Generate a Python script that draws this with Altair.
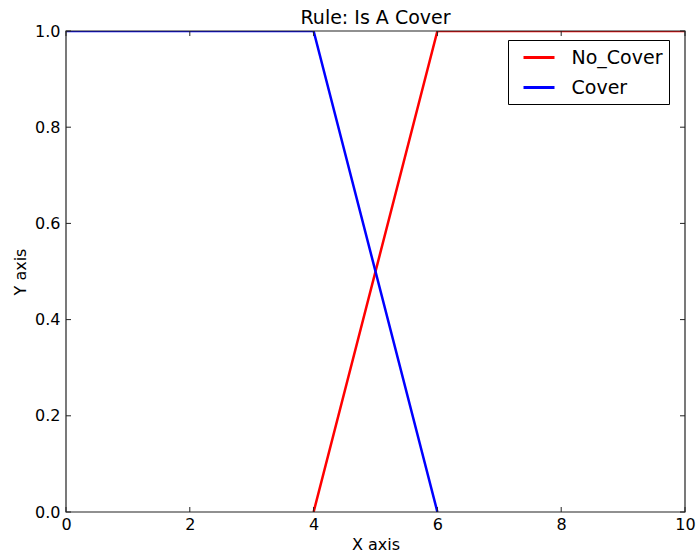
import altair as alt
import pandas as pd

# ---- data ----
series_names = ["No_Cover", "Cover"]
no_cover_x = [4, 6, 10]
no_cover_y = [0, 1, 1]
cover_x = [0, 4, 6]
cover_y = [1, 1, 0]
x_ticks = [0, 2, 4, 6, 8, 10]
y_ticks = [0.0, 0.2, 0.4, 0.6, 0.8, 1.0]

rows = []
for name, xs_, ys_ in zip(series_names, [no_cover_x, cover_x], [no_cover_y, cover_y]):
    for i, (xv, yv) in enumerate(zip(xs_, ys_)):
        rows.append({"x": xv, "y": yv, "series": name, "order": i})
df = pd.DataFrame(rows)

W, H = 619, 481
FONT = "DejaVu Sans"
TL = 5  # inward tick length

xs = alt.Scale(domain=[0, 10], nice=False, zero=False)
ys = alt.Scale(domain=[0, 1], nice=False, zero=False)
x_axis = alt.Axis(values=x_ticks, title="X axis", format="d", labelPadding=4, titlePadding=4, labelFlush=False)
y_axis = alt.Axis(values=y_ticks, title="Y axis", format=".1f", labelPadding=6, titlePadding=6, labelFlush=False)

X = lambda f: alt.X(f, type="quantitative", scale=xs, axis=x_axis)
Y = lambda f: alt.Y(f, type="quantitative", scale=ys, axis=y_axis)

lines = alt.Chart(df).mark_line(strokeWidth=2.5, clip=True).encode(
    x=X("x"),
    y=Y("y"),
    color=alt.Color(
        "series:N",
        scale=alt.Scale(domain=series_names, range=["#ff0000", "#0000ff"]),
        sort=series_names,
        legend=alt.Legend(
            title=None,
            orient="none",
            legendX=442,
            legendY=9,
            symbolType="M-1.55,0H1.55",
            symbolStrokeWidth=3,
            symbolSize=400,
            symbolOffset=13.5,
            labelFontSize=19,
            labelFont=FONT,
            labelColor="black",
            labelOffset=21,
            padding=6,
            rowPadding=8,
            strokeColor="black",
            fillColor="white",
            cornerRadius=0,
        ),
    ),
    order="order:Q",
)

frame_df = pd.DataFrame({"x": [x_ticks[0]], "x2": [x_ticks[-1]], "y": [y_ticks[0]], "y2": [y_ticks[-1]]})
frame = alt.Chart(frame_df).mark_rect(fillOpacity=0, stroke="#222222", strokeWidth=1.2).encode(
    x=X("x"), x2="x2:Q", y=Y("y"), y2="y2:Q"
)

xt = pd.DataFrame({"x": x_ticks})
yt = pd.DataFrame({"y": y_ticks})
tick_style = dict(color="#222222", strokeWidth=1)
xb = alt.Chart(xt).mark_rule(**tick_style).encode(x=X("x"), y=alt.value(H), y2=alt.value(H - TL))
xtop = alt.Chart(xt).mark_rule(**tick_style).encode(x=X("x"), y=alt.value(0), y2=alt.value(TL))
yl = alt.Chart(yt).mark_rule(**tick_style).encode(y=Y("y"), x=alt.value(0), x2=alt.value(TL))
yr = alt.Chart(yt).mark_rule(**tick_style).encode(y=Y("y"), x=alt.value(W), x2=alt.value(W - TL))

chart = alt.layer(lines, frame, xb, xtop, yl, yr).properties(
    width=W,
    height=H,
    title=alt.Title("Rule: Is A Cover", fontSize=19, font=FONT, fontWeight="normal", color="black", offset=-5),
    autosize="none",
    padding={"left": 66, "top": 31, "right": 11, "bottom": 43},
).configure_view(stroke=None).configure_axis(
    domain=False,
    ticks=False,
    grid=False,
    labelFont=FONT,
    labelFontSize=16,
    labelColor="black",
    titleFont=FONT,
    titleFontSize=16,
    titleFontWeight="normal",
    titleColor="black",
)

chart.save("out.html", embed_options={"renderer": "svg", "actions": False})
